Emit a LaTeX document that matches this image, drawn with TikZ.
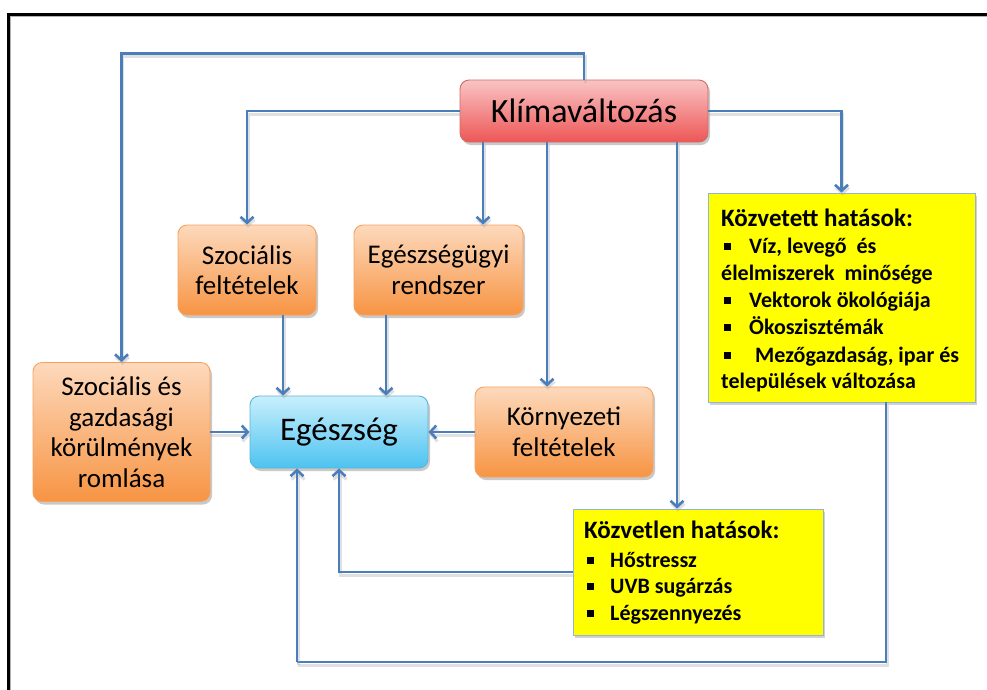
\documentclass[tikz,border=0pt]{standalone}
\usepackage{fontspec}
\setmainfont{Carlito}
\usetikzlibrary{arrows.meta,shadows,calc}
\definecolor{connc}{HTML}{4A7EBB}
\definecolor{orTop}{HTML}{FDD9BC}
\definecolor{orBot}{HTML}{F79443}
\definecolor{orBorder}{HTML}{F6A25E}
\definecolor{rdTop}{HTML}{F9C4C4}
\definecolor{rdBot}{HTML}{EE5656}
\definecolor{rdBorder}{HTML}{CF6A6A}
\definecolor{blTop}{HTML}{C8EFFC}
\definecolor{blBot}{HTML}{4DC3F0}
\definecolor{blBorder}{HTML}{5DB5D6}
\definecolor{yeBorder}{HTML}{95B3D7}
\definecolor{yeFill}{HTML}{FFFF00}
\newcommand\bsq{\rule[3pt]{7pt}{7pt}}
\begin{document}
\begin{tikzpicture}[x=1pt,y=-1pt,
  box/.style={draw, rounded corners=9pt, line width=0.9pt, align=center, inner sep=0pt, text=black,
    drop shadow={shadow xshift=2pt, shadow yshift=-3pt, opacity=0.3, fill=black!70}},
  orbox/.style={box, draw=orBorder, top color=orTop, bottom color=orBot, font=\fontsize{27}{30.5}\selectfont},
  rdbox/.style={box, draw=rdBorder, top color=rdTop, bottom color=rdBot, font=\fontsize{34}{38}\selectfont},
  blbox/.style={box, draw=blBorder, top color=blTop, bottom color=blBot, font=\fontsize{33}{38}\selectfont},
  yebox/.style={draw=yeBorder, fill=yeFill, line width=0.9pt, inner sep=0pt,
    drop shadow={shadow xshift=2pt, shadow yshift=-3pt, opacity=0.25, fill=black!70}},
  yhead/.style={anchor=base west, inner sep=0pt, font=\bfseries\fontsize{25}{27}\selectfont},
  yitem/.style={anchor=base west, inner sep=0pt, font=\bfseries\fontsize{22}{27}\selectfont},
  conn/.style={draw=connc, line width=2.6pt, -{Straight Barb[length=6pt,width=13pt]},
    preaction={draw=black!35, opacity=0.35, line width=3pt, transform canvas={xshift=1pt,yshift=-3pt}}},
  line/.style={draw=connc, line width=2.6pt,
    preaction={draw=black!35, opacity=0.35, line width=3pt, transform canvas={xshift=1pt,yshift=-3pt}}}
]
\useasboundingbox (0,0) rectangle (987,689);
\begin{scope}
\clip (0,0) rectangle (987,689);
\draw[black!30, line width=1.2pt] (10.8,1000) -- (10.8,16.8) -- (1000,16.8);
\draw[black, line width=3pt] (8.5,1000) -- (8.5,14.5) -- (1000,14.5);
\end{scope}

% coordinates for connector columns
\coordinate (cA) at (483,0);
\coordinate (cB) at (547,0);
\coordinate (cC) at (677,0);
\coordinate (cD) at (283,0);
\coordinate (cE) at (386,0);
\coordinate (b1) at (886,662);
\coordinate (b2) at (297,662);

\node[rdbox, minimum width=248pt, minimum height=62pt] (klima) at (584,111) {Klímaváltozás};
\node[orbox, minimum width=138pt, minimum height=90pt] (szf) at (247,270) {Szociális\\feltételek};
\node[orbox, minimum width=169pt, minimum height=90pt] (egr) at (438.5,270) {Egészségügyi\\rendszer};
\node[blbox, minimum width=178pt, minimum height=72pt] (eg) at (339,432) {Egészség};
\node[orbox, minimum width=177pt, minimum height=139pt] (szg) at (121.5,432) {Szociális és\\gazdasági\\körülmények\\romlása};
\node[orbox, minimum width=178pt, minimum height=90pt] (korny) at (564,432) {Környezeti\\feltételek};
\node[yebox, minimum width=267pt, minimum height=209pt] (kvt) at (841.5,297.5) {};
\node[yebox, minimum width=250pt, minimum height=126pt] (kvl) at (698,572) {};

% Közvetett text
\node[yhead] (k0) at (721,226) {Közvetett hatások:};
\node[yitem] (k1) at (724,253) {\bsq\hspace{18pt}Víz, levegő\ \ és};
\node[yitem] (k2) at (721,280) {élelmiszerek\ \ minősége};
\node[yitem] (k3) at (724,307) {\bsq\hspace{18pt}Vektorok ökológiája};
\node[yitem] (k4) at (724,334) {\bsq\hspace{18pt}Ökoszisztémák};
\node[yitem] (k5) at (724,362) {\bsq\hspace{24pt}Mezőgazdaság,\ ipar és};
\node[yitem] (k6) at (721,388) {települések változása};

% Közvetlen text
\node[yhead] (l0) at (584,538) {Közvetlen hatások:};
\node[yitem] (l1) at (587,567) {\bsq\hspace{16pt}Hőstressz};
\node[yitem] (l2) at (587,593) {\bsq\hspace{16pt}UVB sugárzás};
\node[yitem] (l3) at (587,620) {\bsq\hspace{16pt}Légszennyezés};

% connectors
\draw[conn] (klima.north) -- ++(0,-26) -| (szg.north);
\draw[conn] (klima.west) -| (szf.north);
\draw[conn] (klima.south -| cA) -- (egr.north -| cA);
\draw[conn] (klima.south -| cB) -- (korny.north -| cB);
\draw[conn] (klima.south -| cC) -- (kvl.north -| cC);
\draw[conn] (klima.east) -| (kvt.north);
\draw[conn] (szf.south -| cD) -- (eg.north -| cD);
\draw[conn] (egr.south -| cE) -- (eg.north -| cE);
\draw[conn] (szg.east) -- (eg.west);
\draw[conn] (korny.west) -- (eg.east);
\draw[conn] (kvl.west) -| (eg.south);
\draw[line] (kvt.south -| b1) -- (b1) -- (b2);
\draw[conn] (b2) -- (eg.south -| b2);
\end{tikzpicture}
\end{document}
